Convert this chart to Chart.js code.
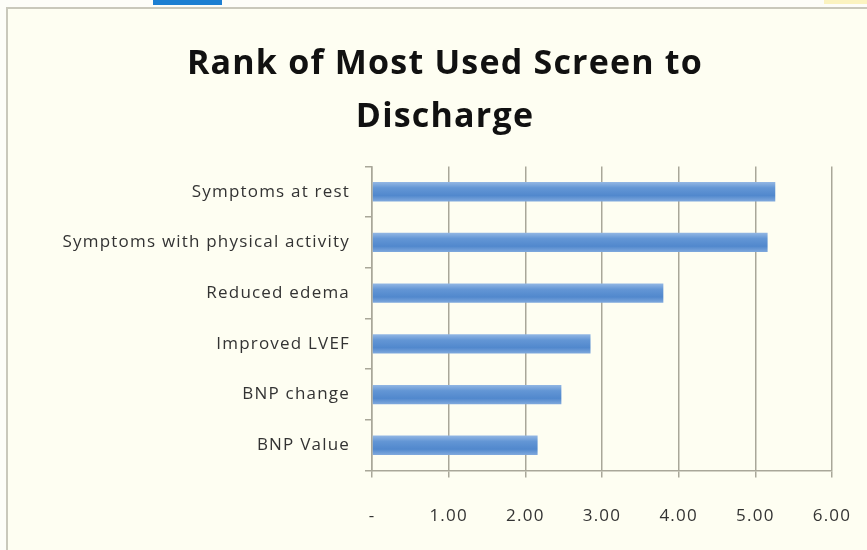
<!DOCTYPE html>
<html lang="en">
<head>
  <meta charset="UTF-8">
  <title>Rank of Most Used Screen to Discharge</title>
  <script src="https://cdn.jsdelivr.net/npm/chart.js"></script>
  <style>
    html, body {
      margin: 0;
      padding: 0;
      background: #fdfdf8;
      width: 867px;
      height: 550px;
      overflow: hidden;
    }

    #frame {
      position: absolute;
      left: 6px;
      top: 7px;
      width: 870px;
      height: 550px;
      background: #fefef2;
      border: 2px solid #c9c8bb;
    }

    #blueTab {
      position: absolute;
      left: 153px;
      top: 0;
      width: 69px;
      height: 5px;
      background: #1c7fd2;
    }

    #yellowTab {
      position: absolute;
      left: 824px;
      top: 0;
      width: 43px;
      height: 4px;
      background: #fbf3c0;
    }

    canvas {
      position: absolute;
      left: 0;
      top: 0;
    }
  </style>
</head>
<body>
  <div id="frame"></div>
  <div id="blueTab"></div>
  <div id="yellowTab"></div>
  <canvas id="rankChart" width="867" height="550"></canvas>

  <script>
    const screens = [
      'Symptoms at rest',
      'Symptoms with physical activity',
      'Reduced edema',
      'Improved LVEF',
      'BNP change',
      'BNP Value'
    ];
    const rankScores = [5.26, 5.16, 3.80, 2.85, 2.47, 2.16];
    const xTicks = [0, 1, 2, 3, 4, 5, 6];

    const gridColor = '#a9a799';
    const barPct = 0.38;

    // vertical shading on each bar, like the Excel style
    function barFill(context) {
      const chart = context.chart;
      const yScale = chart.scales.y;
      if (!chart.chartArea || !yScale || context.dataIndex === undefined) return '#5b8fd1';
      const mid = yScale.getPixelForValue(context.dataIndex);
      const half = (chart.chartArea.height / screens.length) * barPct / 2;
      const g = chart.ctx.createLinearGradient(0, mid - half, 0, mid + half);
      g.addColorStop(0, '#93b7e4');
      g.addColorStop(0.3, '#6396d5');
      g.addColorStop(0.7, '#5188cd');
      g.addColorStop(1, '#80a9dd');
      return g;
    }

    // the original text is set a bit looser than the fonts we have
    const looseText = {
      id: 'looseText',
      beforeLayout(chart) { chart.ctx.letterSpacing = '1.2px'; },
      beforeDraw(chart) { chart.ctx.letterSpacing = '1.2px'; }
    };

    new Chart(document.getElementById('rankChart'), {
      type: 'bar',
      data: {
        labels: screens,
        datasets: [{
          data: rankScores,
          backgroundColor: barFill,
          borderWidth: 0,
          categoryPercentage: 1,
          barPercentage: barPct
        }]
      },
      plugins: [looseText],
      options: {
        indexAxis: 'y',
        responsive: false,
        animation: false,
        layout: { padding: { left: 58, right: 35, top: 12, bottom: -4 } },
        plugins: {
          legend: { display: false },
          tooltip: { enabled: false },
          title: {
            display: true,
            text: ['Rank of Most Used Screen to', 'Discharge'],
            color: '#111',
            font: { family: 'Open Sans', size: 34, weight: 'bold', lineHeight: 1.55 },
            padding: { top: 26, bottom: 23 }
          }
        },
        scales: {
          x: {
            min: 0,
            max: 6,
            afterBuildTicks: axis => { axis.ticks = xTicks.map(v => ({ value: v })); },
            afterFit: axis => { axis.paddingLeft = 0; axis.paddingRight = 0; },
            ticks: {
              color: '#333',
              padding: 28,
              font: { family: 'Open Sans', size: 17 },
              callback: v => v === 0 ? '-' : v.toFixed(2)
            },
            grid: { color: gridColor, lineWidth: 1.5, tickLength: 7 },
            border: { color: gridColor, width: 1.5 }
          },
          y: {
            afterFit: axis => { axis.width = 372 - 58; },
            ticks: {
              color: '#333',
              padding: 15,
              font: { family: 'Open Sans', size: 17 }
            },
            grid: { drawOnChartArea: false, color: gridColor, lineWidth: 1.5, tickLength: 7, offset: true },
            border: { color: gridColor, width: 1.5 }
          }
        }
      }
    });
  </script>
</body>
</html>
